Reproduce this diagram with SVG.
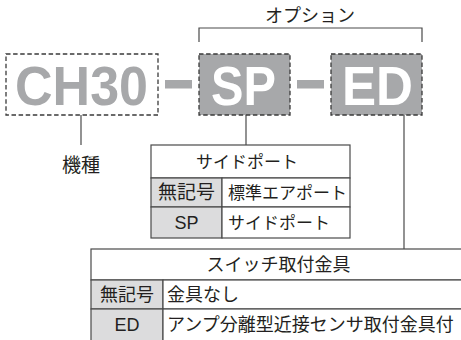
<svg xmlns="http://www.w3.org/2000/svg" width="461" height="340" viewBox="0 0 461 340">
<style>
.box{fill:none;stroke:#3a3a3a;stroke-width:1.3;stroke-dasharray:4.5 2.6}
.boxf{fill:#a7a8aa;stroke:#3a3a3a;stroke-width:1.3;stroke-dasharray:4.5 2.6}
.big{font-family:"Liberation Sans",Arial,sans-serif;font-weight:bold;font-size:55px}
.jp{font-family:"Noto Sans CJK JP",sans-serif;fill:#231f20}
.lat{font-family:"Liberation Sans",Arial,sans-serif;fill:#231f20}
.ln{fill:none;stroke:#4a4a4a;stroke-width:1.2}
.cell{fill:#fff;stroke:#4a4a4a;stroke-width:1.2}
.cellg{fill:#dcdcdd;stroke:#4a4a4a;stroke-width:1.2}
.dash{fill:#a7a8aa}
</style>
<rect width="461" height="340" fill="#fff"/>
<g id="connectors">
<path class="ln" d="M199 42V28H422V42"/>
<path class="ln" d="M81 115V145"/>
<path class="ln" d="M246 115V145"/>
<path class="ln" d="M404 115V249"/>
</g>
<g id="options-label"><text class="jp" x="310" y="22" font-size="18" text-anchor="middle">オプション</text></g>
<g id="node-ch30">
<rect class="box" x="6" y="54" width="152" height="61"/>
<text class="big" x="15" y="105" fill="#a7a8aa" textLength="133" lengthAdjust="spacingAndGlyphs">CH30</text>
</g>
<g id="dash1"><rect class="dash" x="165" y="80" width="27" height="8.5"/></g>
<g id="node-sp">
<rect class="boxf" x="199" y="54" width="91" height="61"/>
<text class="big" x="211" y="105" fill="#fff" textLength="65" lengthAdjust="spacingAndGlyphs">SP</text>
</g>
<g id="dash2"><rect class="dash" x="297" y="80" width="27" height="8.5"/></g>
<g id="node-ed">
<rect class="boxf" x="331" y="54" width="91" height="61"/>
<text class="big" x="342" y="105" fill="#fff" textLength="71" lengthAdjust="spacingAndGlyphs">ED</text>
</g>
<g id="label-kishu"><text class="jp" x="81" y="172" font-size="19" text-anchor="middle">機種</text></g>
<g id="table-sideport">
<rect class="cell" x="151" y="145" width="199" height="33"/>
<rect class="cellg" x="151" y="178" width="71" height="29"/>
<rect class="cell" x="222" y="178" width="128" height="29"/>
<rect class="cellg" x="151" y="207" width="71" height="31"/>
<rect class="cell" x="222" y="207" width="128" height="31"/>
<text class="jp" x="247" y="168" font-size="17" text-anchor="middle">サイドポート</text>
<text class="jp" x="186.5" y="199" font-size="19" text-anchor="middle">無記号</text>
<text class="jp" x="228" y="199" font-size="17">標準エアポート</text>
<text class="lat" x="186.5" y="229" font-size="18" text-anchor="middle">SP</text>
<text class="jp" x="228" y="229" font-size="17">サイドポート</text>
</g>
<g id="table-switch">
<rect class="cell" x="91" y="249" width="380" height="31"/>
<rect class="cellg" x="91" y="280" width="72" height="29"/>
<rect class="cell" x="163" y="280" width="308" height="29"/>
<rect class="cellg" x="91" y="309" width="72" height="35"/>
<rect class="cell" x="163" y="309" width="308" height="35"/>
<text class="jp" x="278.5" y="271" font-size="18" text-anchor="middle">スイッチ取付金具</text>
<text class="jp" x="127" y="301" font-size="18" text-anchor="middle">無記号</text>
<text class="jp" x="167" y="301" font-size="18">金具なし</text>
<text class="lat" x="127" y="331" font-size="18" text-anchor="middle">ED</text>
<text class="jp" x="167" y="331" font-size="18">アンプ分離型近接センサ取付金具付</text>
</g>
</svg>
